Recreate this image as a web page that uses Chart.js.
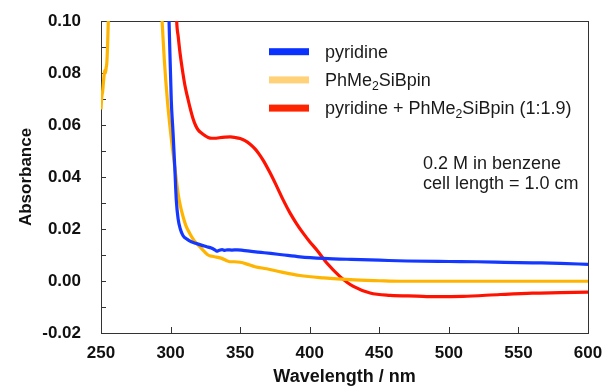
<!DOCTYPE html>
<html>
<head>
<meta charset="utf-8">
<script src="https://cdn.jsdelivr.net/npm/chart.js@4/dist/chart.umd.min.js"></script>
<style>
  body { margin: 0; background: #fff; }
  #wrap { width: 605px; height: 388px; }
</style>
</head>
<body>
<div id="wrap"><canvas id="absChart"></canvas></div>
<script>
const FONT = '"Liberation Sans", Arial, Helvetica, sans-serif';

// pyridine (blue)
const pyridineNm = [298.2, 298.9, 300.5, 301.8, 303.0, 304.1, 305.4, 307.0, 309.0, 312.0, 314.9, 318.0, 322.1, 326.0, 329.3, 331.5, 333.0, 335.0, 337.0, 339.0, 341.0, 344.0, 348.0, 352.0, 358.0, 365.0, 372.0, 380.0, 393.0, 410.0, 430.0, 450.0, 470.0, 500.0, 520.0, 540.0, 560.0, 580.0, 600.0];
const pyridineAbs = [0.112, 0.100, 0.0696, 0.0568, 0.044, 0.0312, 0.0240, 0.0200, 0.0174, 0.0160, 0.0151, 0.0145, 0.0138, 0.0132, 0.0127, 0.0121, 0.0115, 0.0118, 0.0121, 0.0118, 0.0120, 0.0119, 0.0120, 0.0118, 0.0114, 0.0110, 0.0106, 0.0101, 0.0093, 0.0087, 0.0083, 0.0080, 0.0077, 0.0075, 0.0074, 0.0072, 0.0070, 0.0068, 0.0064];

// PhMe2SiBpin (yellow) - null splits the off-scale part
const silylNm = [250.0, 250.6, 251.2, 251.7, 252.2, 252.7, 253.2, 253.7, 254.2, 254.7, 255.2, 255.8, 256.5, 275.0, 292.5, 293.9, 295.5, 297.7, 300.1, 303.0, 305.4, 307.0, 309.0, 311.0, 313.8, 317.0, 321.0, 324.0, 326.9, 330.0, 332.9, 336.8, 340.0, 342.7, 346.0, 350.0, 355.0, 360.7, 369.0, 380.0, 393.0, 410.0, 429.0, 450.0, 465.0, 500.0, 540.0, 570.0, 600.0];
const silylAbs = [0.066, 0.071, 0.073, 0.076, 0.079, 0.081, 0.080, 0.082, 0.084, 0.090, 0.099, 0.108, 0.118, null, 0.112, 0.100, 0.085, 0.0696, 0.0568, 0.044, 0.0337, 0.029, 0.0247, 0.0213, 0.0183, 0.0155, 0.0132, 0.0115, 0.0100, 0.0095, 0.0092, 0.0087, 0.0079, 0.0074, 0.0074, 0.0072, 0.0065, 0.0055, 0.0047, 0.0034, 0.0021, 0.0012, 0.0005, 0.0001, -0.0001, -0.0001, -0.0001, -0.0001, -0.0001];

// pyridine + PhMe2SiBpin (red)
const mixNm = [303.8, 304.4, 305.5, 306.8, 308.5, 310.4, 312.5, 314.3, 316.1, 318.0, 319.7, 322.4, 325.0, 327.0, 329.6, 332.0, 335.0, 339.1, 343.0, 346.3, 350.0, 353.5, 357.0, 360.7, 363.5, 366.7, 371.5, 376.3, 381.0, 385.9, 390.5, 395.4, 400.0, 405.1, 412.3, 421.8, 431.4, 443.4, 457.8, 477.0, 490.0, 510.0, 537.0, 560.0, 580.0, 600.0];
const mixAbs = [0.112, 0.100, 0.094, 0.0877, 0.0812, 0.0750, 0.0700, 0.0660, 0.0625, 0.0598, 0.0582, 0.0568, 0.0558, 0.0552, 0.0549, 0.0549, 0.0551, 0.0553, 0.0554, 0.0552, 0.0548, 0.0540, 0.0527, 0.0508, 0.0489, 0.0463, 0.0416, 0.0364, 0.0311, 0.0261, 0.0221, 0.0183, 0.0151, 0.0119, 0.0069, 0.0017, -0.0021, -0.0046, -0.0055, -0.0058, -0.0060, -0.0059, -0.0052, -0.0047, -0.0045, -0.0043];

const xTickValues = [250, 300, 350, 400, 450, 500, 550, 600];
const yMajorTicks = [-0.02, 0.00, 0.02, 0.04, 0.06, 0.08, 0.10];
const yMinorTicks = [-0.01, 0.01, 0.03, 0.05, 0.07, 0.09];
const noteLines = ['0.2 M in benzene', 'cell length = 1.0 cm'];

const toPoints = (xs, ys) => xs.map((x, i) => ({ x: x, y: ys[i] }));

// "_2" in a label means subscript 2
function drawRich(ctx, text, x, y, size) {
  const parts = text.split(/_(\d+)/);
  parts.forEach((p, i) => {
    const sub = i % 2 === 1;
    ctx.font = (sub ? size * 0.68 : size) + 'px ' + FONT;
    ctx.fillText(p, x, sub ? y + size * 0.22 : y);
    x += ctx.measureText(p).width;
  });
}

const framePlugin = {
  id: 'frame',
  beforeDatasetsDraw(chart) {
    const { ctx, chartArea: a, scales: { x, y } } = chart;
    ctx.save();
    ctx.strokeStyle = '#333';
    ctx.lineWidth = 1;
    ctx.strokeRect(a.left + 0.5, a.top + 0.5, a.right - a.left, a.bottom - a.top);
    ctx.beginPath();
    x.ticks.forEach(t => {
      const px = Math.round(x.getPixelForValue(t.value)) + 0.5;
      ctx.moveTo(px, a.bottom);
      ctx.lineTo(px, a.bottom - 6);
    });
    y.ticks.forEach(t => {
      const py = Math.round(y.getPixelForValue(t.value)) + 0.5;
      ctx.moveTo(a.left, py);
      ctx.lineTo(a.left + 5, py);
    });
    ctx.stroke();
    ctx.restore();
  }
};

const legendPlugin = {
  id: 'boxLegend',
  afterDraw(chart) {
    const ctx = chart.ctx;
    ctx.save();
    ctx.textBaseline = 'alphabetic';
    chart.data.datasets.forEach((ds, i) => {
      const cy = 51.7 + i * 28.2;
      ctx.fillStyle = ds.legendColor;
      ctx.fillRect(269, cy - 3.5, 40, 7);
      ctx.fillStyle = '#1a1a1a';
      drawRich(ctx, ds.label, 325, cy + 6, 18);
    });
    ctx.fillStyle = '#1a1a1a';
    noteLines.forEach((line, i) => drawRich(ctx, line, 423, 169 + i * 20, 18));
    ctx.restore();
  }
};

new Chart(document.getElementById('absChart'), {
  type: 'line',
  data: {
    datasets: [
      { label: 'pyridine', data: toPoints(pyridineNm, pyridineAbs), borderColor: '#1438ff', legendColor: '#0a32ff' },
      { label: 'PhMe_2SiBpin', data: toPoints(silylNm, silylAbs), borderColor: '#ffb400', legendColor: '#ffd27a' },
      { label: 'pyridine + PhMe_2SiBpin (1:1.9)', data: toPoints(mixNm, mixAbs), borderColor: '#ff1200', legendColor: '#ff2400' }
    ]
  },
  options: {
    responsive: true,
    maintainAspectRatio: false,
    animation: false,
    spanGaps: false,
    layout: { padding: { top: 21, right: 17, bottom: 0, left: 0 } },
    elements: {
      point: { radius: 0 },
      line: { borderWidth: 3.2, cubicInterpolationMode: 'monotone' }
    },
    datasets: { line: { clip: 0 } },
    plugins: { legend: { display: false }, tooltip: { enabled: false } },
    scales: {
      x: {
        type: 'linear',
        min: 250,
        max: 600,
        afterBuildTicks: s => { s.ticks = xTickValues.map(v => ({ value: v })); },
        afterFit: s => { s.height = 55; s.paddingLeft = 0; s.paddingRight = 0; },
        grid: { display: false, drawTicks: false },
        border: { display: false },
        ticks: { padding: 10, maxRotation: 0, color: '#111', font: { family: FONT, size: 17, weight: 'bold' } },
        title: { display: true, text: 'Wavelength / nm', color: '#111', padding: 0, font: { family: FONT, size: 18, weight: 'bold' } }
      },
      y: {
        min: -0.02,
        max: 0.10,
        afterBuildTicks: s => {
          s.ticks = yMajorTicks.concat(yMinorTicks).sort((a, b) => a - b).map(v => ({ value: v }));
        },
        afterFit: s => { s.width = 101; s.paddingTop = 0; s.paddingBottom = 0; },
        grid: { display: false, drawTicks: false },
        border: { display: false },
        ticks: {
          padding: 20,
          color: '#111',
          font: { family: FONT, size: 17, weight: 'bold' },
          callback: v => yMajorTicks.some(m => Math.abs(m - v) < 1e-9) ? v.toFixed(2) : ''
        },
        title: { display: true, text: 'Absorbance', color: '#111', padding: { top: 16, bottom: 0 }, font: { family: FONT, size: 17, weight: 'bold' } }
      }
    }
  },
  plugins: [framePlugin, legendPlugin]
});
</script>
</body>
</html>
